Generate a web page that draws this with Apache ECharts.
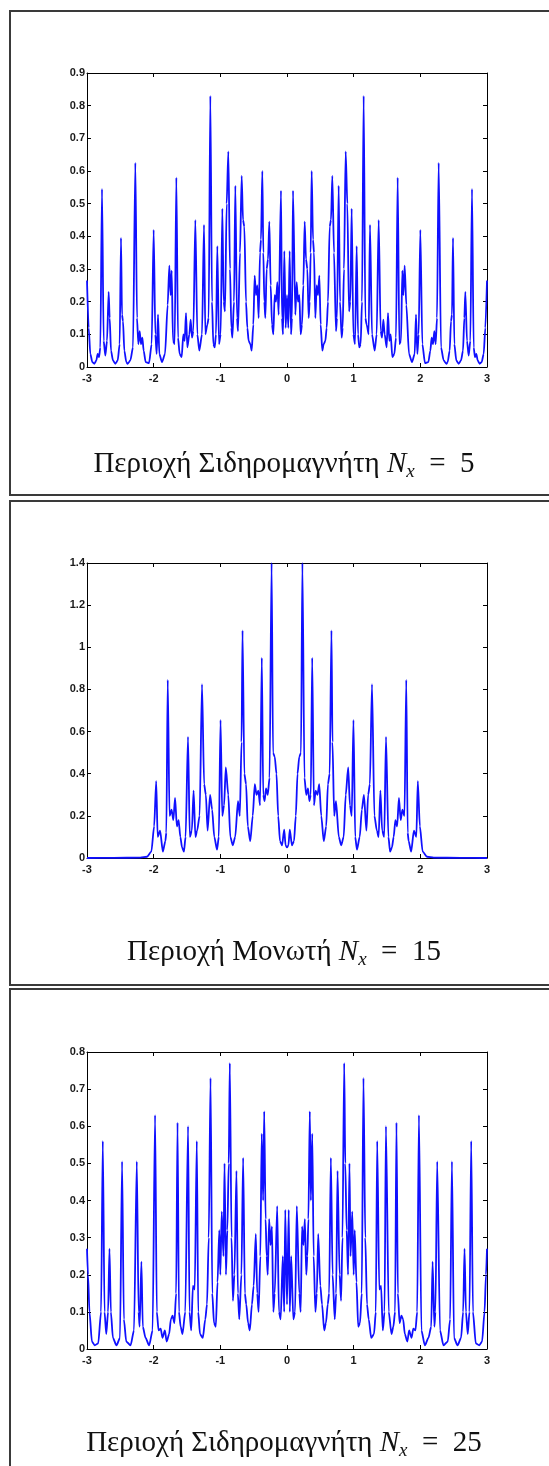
<!DOCTYPE html>
<html><head><meta charset="utf-8">
<script src="https://cdn.jsdelivr.net/npm/echarts@6/dist/echarts.min.js"></script>
<style>html,body{margin:0;padding:0;background:#fff}#c{width:549px;height:1466px}</style>
</head><body><div id="c"></div>
<script>
// x tick labels shared by all panels
const xTicks = [-3, -2, -1, 0, 1, 2, 3];
// panel titles
const titles = [
  ['Περιοχή Σιδηρομαγνήτη ', '5'],
  ['Περιοχή Μονωτή ', '15'],
  ['Περιοχή Σιδηρομαγνήτη ', '25']
];
// y-axis ranges (max, step)
const yMax = [0.9, 1.4, 0.8];
const yStep = [0.1, 0.2, 0.1];

// Nx = 5 (ferromagnet) : [energy, value]
const nx5 = [[-3,0.265],[-2.975,0.12],[-2.95,0.04],[-2.92,0.015],[-2.89,0.01],[-2.86,0.02],[-2.84,0.04],[-2.82,0.03],[-2.8,0.06],[-2.775,0.545],[-2.75,0.08],[-2.725,0.035],[-2.7,0.08],[-2.675,0.23],[-2.66,0.15],[-2.64,0.05],[-2.61,0.02],[-2.575,0.01],[-2.54,0.02],[-2.51,0.07],[-2.49,0.395],[-2.475,0.16],[-2.46,0.14],[-2.44,0.05],[-2.41,0.015],[-2.39,0.01],[-2.35,0.02],[-2.31,0.06],[-2.275,0.625],[-2.25,0.15],[-2.23,0.07],[-2.21,0.11],[-2.19,0.07],[-2.17,0.09],[-2.15,0.05],[-2.12,0.015],[-2.07,0.012],[-2.03,0.07],[-2,0.42],[-1.975,0.1],[-1.955,0.04],[-1.935,0.16],[-1.915,0.04],[-1.875,0.015],[-1.83,0.04],[-1.79,0.19],[-1.765,0.31],[-1.745,0.22],[-1.73,0.295],[-1.71,0.08],[-1.685,0.07],[-1.66,0.58],[-1.635,0.09],[-1.61,0.04],[-1.58,0.03],[-1.555,0.1],[-1.535,0.08],[-1.515,0.165],[-1.495,0.06],[-1.465,0.1],[-1.445,0.145],[-1.425,0.09],[-1.405,0.11],[-1.375,0.45],[-1.345,0.1],[-1.315,0.05],[-1.275,0.1],[-1.245,0.435],[-1.225,0.1],[-1.195,0.13],[-1.175,0.15],[-1.15,0.83],[-1.125,0.2],[-1.105,0.07],[-1.085,0.06],[-1.065,0.1],[-1.045,0.37],[-1.02,0.07],[-0.995,0.1],[-0.97,0.485],[-0.95,0.2],[-0.93,0.17],[-0.905,0.5],[-0.88,0.66],[-0.855,0.3],[-0.835,0.12],[-0.82,0.09],[-0.795,0.2],[-0.775,0.555],[-0.75,0.15],[-0.735,0.11],[-0.705,0.35],[-0.68,0.585],[-0.66,0.45],[-0.64,0.43],[-0.615,0.2],[-0.595,0.12],[-0.575,0.08],[-0.55,0.07],[-0.53,0.05],[-0.505,0.13],[-0.485,0.28],[-0.465,0.22],[-0.445,0.25],[-0.425,0.15],[-0.405,0.35],[-0.39,0.39],[-0.37,0.6],[-0.355,0.35],[-0.34,0.2],[-0.325,0.15],[-0.305,0.3],[-0.285,0.33],[-0.265,0.445],[-0.245,0.25],[-0.225,0.13],[-0.205,0.1],[-0.185,0.22],[-0.165,0.2],[-0.145,0.26],[-0.125,0.16],[-0.09,0.54],[-0.075,0.15],[-0.06,0.1],[-0.04,0.355],[-0.02,0.12],[0,0.22],
[0.02,0.12],[0.04,0.355],[0.06,0.1],[0.075,0.15],[0.09,0.54],[0.125,0.16],[0.145,0.26],[0.165,0.2],[0.185,0.22],[0.205,0.1],[0.225,0.13],[0.245,0.25],[0.265,0.445],[0.285,0.33],[0.305,0.3],[0.325,0.15],[0.34,0.2],[0.355,0.35],[0.37,0.6],[0.39,0.39],[0.405,0.35],[0.425,0.15],[0.445,0.25],[0.465,0.22],[0.485,0.28],[0.505,0.13],[0.53,0.05],[0.55,0.07],[0.575,0.08],[0.595,0.12],[0.615,0.2],[0.64,0.43],[0.66,0.45],[0.68,0.585],[0.705,0.35],[0.735,0.11],[0.75,0.15],[0.775,0.555],[0.795,0.2],[0.82,0.09],[0.835,0.12],[0.855,0.3],[0.88,0.66],[0.905,0.5],[0.93,0.17],[0.95,0.2],[0.97,0.485],[0.995,0.1],[1.02,0.07],[1.045,0.37],[1.065,0.1],[1.085,0.06],[1.105,0.07],[1.125,0.2],[1.15,0.83],[1.175,0.15],[1.195,0.13],[1.225,0.1],[1.245,0.435],[1.275,0.1],[1.315,0.05],[1.345,0.1],[1.375,0.45],[1.405,0.11],[1.425,0.09],[1.445,0.145],[1.465,0.1],[1.495,0.06],[1.515,0.165],[1.535,0.08],[1.555,0.1],[1.58,0.03],[1.61,0.04],[1.635,0.09],[1.66,0.58],[1.685,0.07],[1.71,0.08],[1.73,0.295],[1.745,0.22],[1.765,0.31],[1.79,0.19],[1.83,0.04],[1.875,0.015],[1.915,0.04],[1.935,0.16],[1.955,0.04],[1.975,0.1],[2,0.42],[2.03,0.07],[2.07,0.012],[2.12,0.015],[2.15,0.05],[2.17,0.09],[2.19,0.07],[2.21,0.11],[2.23,0.07],[2.25,0.15],[2.275,0.625],[2.31,0.06],[2.35,0.02],[2.39,0.01],[2.41,0.015],[2.44,0.05],[2.46,0.14],[2.475,0.16],[2.49,0.395],[2.51,0.07],[2.54,0.02],[2.575,0.01],[2.61,0.02],[2.64,0.05],[2.66,0.15],[2.675,0.23],[2.7,0.08],[2.725,0.035],[2.75,0.08],[2.775,0.545],[2.8,0.06],[2.82,0.03],[2.84,0.04],[2.86,0.02],[2.89,0.01],[2.92,0.015],[2.95,0.04],[2.975,0.12],[3,0.265]];

// Nx = 15 (insulator)
const nx15 = [[-3,0],[-2.6,0.0005],[-2.2,0.002],[-2.1,0.006],[-2.035,0.03],[-1.993,0.15],[-1.962,0.365],[-1.94,0.1],[-1.904,0.13],[-1.862,0.03],[-1.825,0.08],[-1.81,0.12],[-1.789,0.845],[-1.762,0.2],[-1.731,0.23],[-1.705,0.18],[-1.679,0.285],[-1.652,0.15],[-1.626,0.18],[-1.6,0.1],[-1.574,0.05],[-1.547,0.03],[-1.521,0.1],[-1.485,0.575],[-1.458,0.1],[-1.427,0.13],[-1.401,0.32],[-1.374,0.1],[-1.348,0.13],[-1.311,0.2],[-1.275,0.825],[-1.243,0.35],[-1.217,0.3],[-1.191,0.13],[-1.154,0.3],[-1.123,0.23],[-1.091,0.1],[-1.049,0.04],[-1.023,0.1],[-0.997,0.655],[-0.971,0.2],[-0.944,0.25],[-0.918,0.43],[-0.881,0.3],[-0.85,0.1],[-0.813,0.06],[-0.777,0.1],[-0.735,0.27],[-0.708,0.2],[-0.682,0.55],[-0.667,1.08],[-0.64,0.4],[-0.614,0.35],[-0.588,0.15],[-0.551,0.08],[-0.514,0.2],[-0.483,0.35],[-0.457,0.3],[-0.43,0.32],[-0.404,0.25],[-0.378,0.95],[-0.357,0.3],[-0.336,0.27],[-0.315,0.33],[-0.289,0.3],[-0.262,0.38],[-0.231,1.4],[-0.21,0.5],[-0.184,0.48],[-0.158,0.4],[-0.132,0.2],[-0.105,0.08],[-0.074,0.06],[-0.042,0.135],[-0.021,0.06],[0,0.05],
[0.021,0.06],[0.042,0.135],[0.074,0.06],[0.105,0.08],[0.132,0.2],[0.158,0.4],[0.184,0.48],[0.21,0.5],[0.231,1.4],[0.262,0.38],[0.289,0.3],[0.315,0.33],[0.336,0.27],[0.357,0.3],[0.378,0.95],[0.404,0.25],[0.43,0.32],[0.457,0.3],[0.483,0.35],[0.514,0.2],[0.551,0.08],[0.588,0.15],[0.614,0.35],[0.64,0.4],[0.667,1.08],[0.682,0.55],[0.708,0.2],[0.735,0.27],[0.777,0.1],[0.813,0.06],[0.85,0.1],[0.881,0.3],[0.918,0.43],[0.944,0.25],[0.971,0.2],[0.997,0.655],[1.023,0.1],[1.049,0.04],[1.091,0.1],[1.123,0.23],[1.154,0.3],[1.191,0.13],[1.217,0.3],[1.243,0.35],[1.275,0.825],[1.311,0.2],[1.348,0.13],[1.374,0.1],[1.401,0.32],[1.427,0.13],[1.458,0.1],[1.485,0.575],[1.521,0.1],[1.547,0.03],[1.574,0.05],[1.6,0.1],[1.626,0.18],[1.652,0.15],[1.679,0.285],[1.705,0.18],[1.731,0.23],[1.762,0.2],[1.789,0.845],[1.81,0.12],[1.825,0.08],[1.862,0.03],[1.904,0.13],[1.94,0.1],[1.962,0.365],[1.993,0.15],[2.035,0.03],[2.1,0.006],[2.2,0.002],[2.6,0.0005],[3,0]];

// Nx = 25 (ferromagnet)
const nx25 = [[-3,0.27],[-2.985,0.2],[-2.963,0.1],[-2.926,0.02],[-2.884,0.01],[-2.832,0.015],[-2.789,0.1],[-2.763,0.56],[-2.737,0.1],[-2.711,0.04],[-2.684,0.1],[-2.663,0.27],[-2.642,0.1],[-2.611,0.03],[-2.558,0.01],[-2.505,0.03],[-2.474,0.505],[-2.447,0.08],[-2.411,0.02],[-2.347,0.01],[-2.295,0.05],[-2.253,0.505],[-2.226,0.1],[-2.211,0.06],[-2.184,0.235],[-2.163,0.06],[-2.121,0.03],[-2.068,0.01],[-2.016,0.05],[-1.979,0.63],[-1.953,0.1],[-1.926,0.05],[-1.895,0.055],[-1.868,0.03],[-1.832,0.05],[-1.805,0.02],[-1.768,0.04],[-1.742,0.08],[-1.716,0.09],[-1.689,0.07],[-1.663,0.15],[-1.642,0.61],[-1.621,0.1],[-1.595,0.06],[-1.568,0.04],[-1.526,0.1],[-1.484,0.6],[-1.463,0.1],[-1.437,0.05],[-1.411,0.17],[-1.384,0.16],[-1.353,0.56],[-1.332,0.1],[-1.305,0.04],[-1.263,0.03],[-1.226,0.08],[-1.2,0.12],[-1.174,0.3],[-1.147,0.73],[-1.121,0.15],[-1.095,0.07],[-1.068,0.06],[-1.042,0.18],[-1.016,0.32],[-1,0.2],[-0.979,0.37],[-0.953,0.25],[-0.937,0.5],[-0.916,0.2],[-0.895,0.32],[-0.874,0.5],[-0.858,0.77],[-0.832,0.3],[-0.811,0.13],[-0.789,0.2],[-0.758,0.48],[-0.737,0.15],[-0.716,0.08],[-0.684,0.2],[-0.658,0.515],[-0.632,0.15],[-0.611,0.12],[-0.584,0.07],[-0.558,0.05],[-0.526,0.12],[-0.5,0.17],[-0.468,0.31],[-0.447,0.15],[-0.426,0.1],[-0.4,0.25],[-0.379,0.58],[-0.358,0.4],[-0.342,0.64],[-0.321,0.35],[-0.305,0.25],[-0.289,0.2],[-0.268,0.35],[-0.247,0.28],[-0.226,0.33],[-0.205,0.1],[-0.184,0.15],[-0.147,0.385],[-0.121,0.1],[-0.095,0.08],[-0.063,0.25],[-0.042,0.1],[-0.026,0.375],[0,0.12],
[0.026,0.375],[0.042,0.1],[0.063,0.25],[0.095,0.08],[0.121,0.1],[0.147,0.385],[0.184,0.15],[0.205,0.1],[0.226,0.33],[0.247,0.28],[0.268,0.35],[0.289,0.2],[0.305,0.25],[0.321,0.35],[0.342,0.64],[0.358,0.4],[0.379,0.58],[0.4,0.25],[0.426,0.1],[0.447,0.15],[0.468,0.31],[0.5,0.17],[0.526,0.12],[0.558,0.05],[0.584,0.07],[0.611,0.12],[0.632,0.15],[0.658,0.515],[0.684,0.2],[0.716,0.08],[0.737,0.15],[0.758,0.48],[0.789,0.2],[0.811,0.13],[0.832,0.3],[0.858,0.77],[0.874,0.5],[0.895,0.32],[0.916,0.2],[0.937,0.5],[0.953,0.25],[0.979,0.37],[1,0.2],[1.016,0.32],[1.042,0.18],[1.068,0.06],[1.095,0.07],[1.121,0.15],[1.147,0.73],[1.174,0.3],[1.2,0.12],[1.226,0.08],[1.263,0.03],[1.305,0.04],[1.332,0.1],[1.353,0.56],[1.384,0.16],[1.411,0.17],[1.437,0.05],[1.463,0.1],[1.484,0.6],[1.526,0.1],[1.568,0.04],[1.595,0.06],[1.621,0.1],[1.642,0.61],[1.663,0.15],[1.689,0.07],[1.716,0.09],[1.742,0.08],[1.768,0.04],[1.805,0.02],[1.832,0.05],[1.868,0.03],[1.895,0.055],[1.926,0.05],[1.953,0.1],[1.979,0.63],[2.016,0.05],[2.068,0.01],[2.121,0.03],[2.163,0.06],[2.184,0.235],[2.211,0.06],[2.226,0.1],[2.253,0.505],[2.295,0.05],[2.347,0.01],[2.411,0.02],[2.447,0.08],[2.474,0.505],[2.505,0.03],[2.558,0.01],[2.611,0.03],[2.642,0.1],[2.663,0.27],[2.684,0.1],[2.711,0.04],[2.737,0.1],[2.763,0.56],[2.789,0.1],[2.832,0.015],[2.884,0.01],[2.926,0.02],[2.963,0.1],[2.985,0.2],[3,0.27]];

const seriesData = [nx5, nx15, nx25];

// layout (pixels)
const gridTops = [73, 563, 1052];
const gridHeights = [294, 295, 297];
const titleYs = [464, 952, 1443];
const boxes = [[10, 11, 484], [10, 501, 484], [10, 989, 600]];

const labelFont = {fontSize: 11, fontWeight: 'bold', fontFamily: '"Liberation Sans Narrow","Arial Narrow","Liberation Sans",sans-serif', color: '#1a1a1a'};
const lineStyle = {color: '#000', width: 1};
const serif = '"Liberation Serif",serif';

const grid = [], xAxis = [], yAxis = [], series = [], graphic = [];
for (let i = 0; i < 3; i++) {
  grid.push({left: 87, top: gridTops[i], width: 400, height: gridHeights[i], show: false});
  const xa = {type: 'value', gridIndex: i, min: xTicks[0], max: xTicks[xTicks.length - 1], interval: 1,
    axisLine: {show: true, onZero: false, lineStyle}, splitLine: {show: false},
    axisTick: {show: true, inside: true, length: 4, lineStyle}};
  xAxis.push(Object.assign({}, xa, {position: 'bottom',
    axisLabel: Object.assign({margin: 6, showMinLabel: true, showMaxLabel: true}, labelFont)}));
  xAxis.push(Object.assign({}, xa, {position: 'top', axisLabel: {show: false}}));
  const ya = {type: 'value', gridIndex: i, min: 0, max: yMax[i], interval: yStep[i],
    axisLine: {show: true, onZero: false, lineStyle}, splitLine: {show: false},
    axisTick: {show: true, inside: true, length: 4, lineStyle}};
  yAxis.push(Object.assign({}, ya, {position: 'left',
    axisLabel: Object.assign({margin: 2, showMinLabel: true, showMaxLabel: true}, labelFont)}));
  yAxis.push(Object.assign({}, ya, {position: 'right', axisLabel: {show: false}}));
  series.push({type: 'line', xAxisIndex: 2 * i, yAxisIndex: 2 * i, data: seriesData[i],
    showSymbol: false, symbol: 'none', clip: true, animation: false,
    smooth: 0.25, smoothMonotone: 'x',
    lineStyle: {color: '#1010ff', width: 1.8}});
  graphic.push({type: 'rect', shape: {x: boxes[i][0], y: boxes[i][1], width: 600, height: boxes[i][2]},
    style: {fill: 'none', stroke: '#3a3a3a', lineWidth: 2}, silent: true});
  graphic.push({type: 'text', x: 284, y: titleYs[i],
    style: {text: '{a|' + titles[i][0] + '}{b|N}{c|x}{a|  =  ' + titles[i][1] + '}',
      align: 'center', verticalAlign: 'middle',
      rich: {
        a: {fontFamily: serif, fontSize: 29, fill: '#111', lineHeight: 34},
        b: {fontFamily: serif, fontStyle: 'italic', fontSize: 29, fill: '#111', lineHeight: 34},
        c: {fontFamily: serif, fontStyle: 'italic', fontSize: 19, fill: '#111', lineHeight: 19, verticalAlign: 'bottom'}
      }}, silent: true});
}

const chart = echarts.init(document.getElementById('c'), null, {renderer: 'canvas'});
chart.setOption({animation: false, backgroundColor: '#fff', grid, xAxis, yAxis, series, graphic});
</script></body></html>
